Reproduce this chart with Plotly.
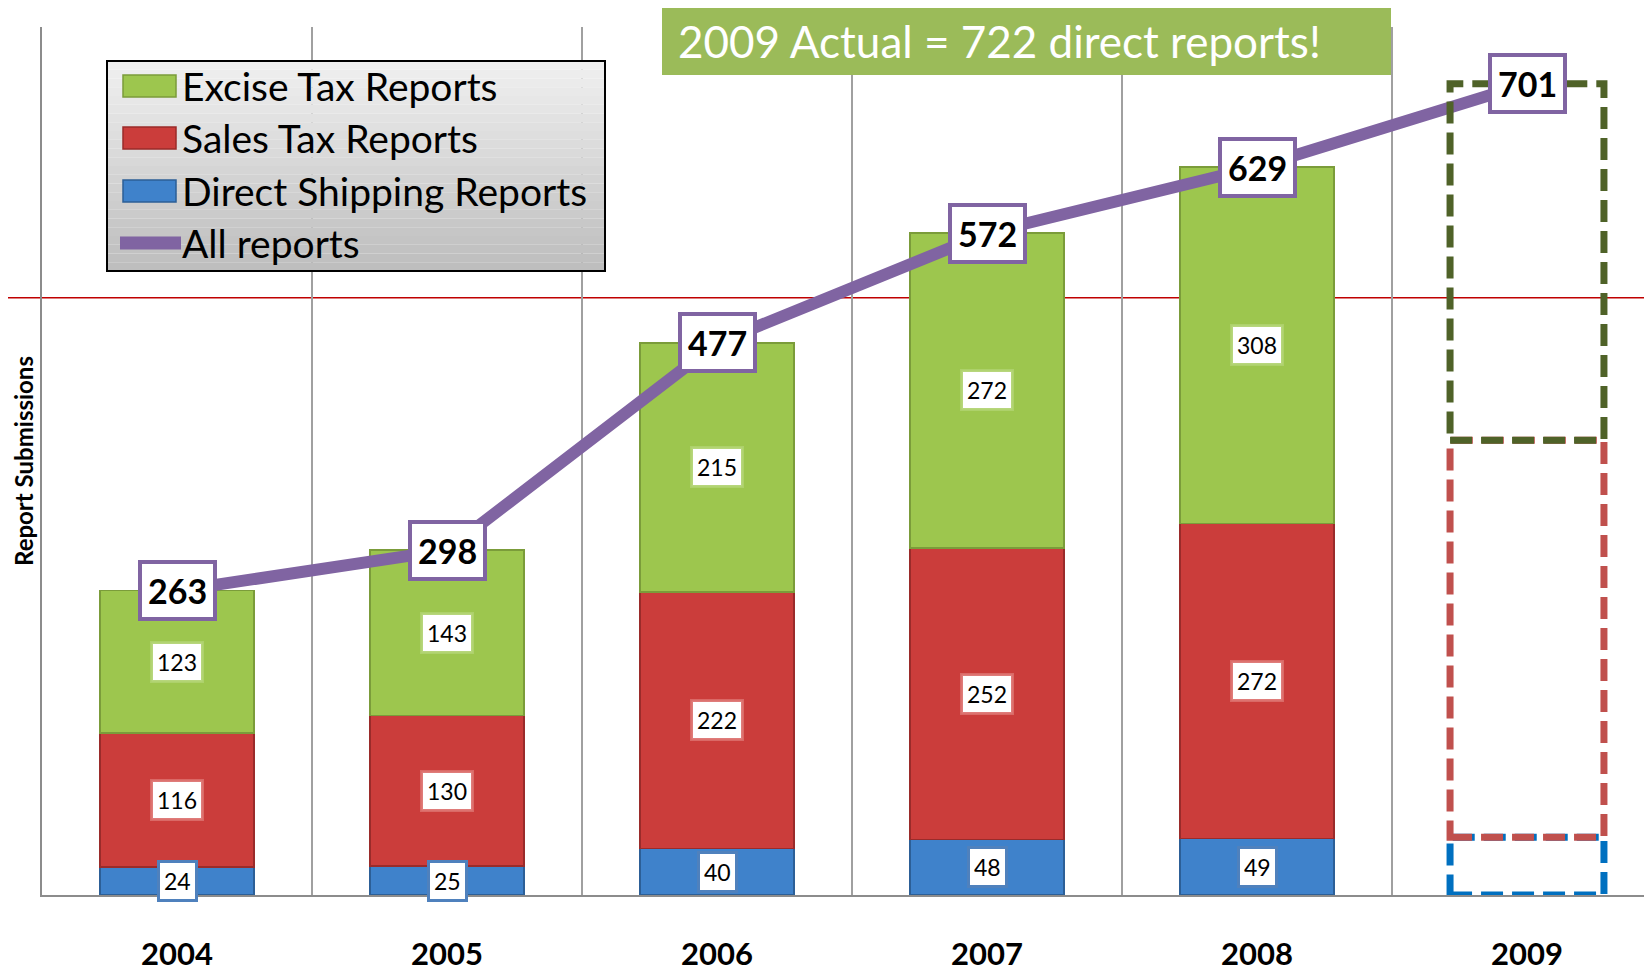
import plotly.graph_objects as go

# ---------------- data ----------------
years = ["2004", "2005", "2006", "2007", "2008", "2009"]
direct = [24, 25, 40, 48, 49, 50]
sales = [116, 130, 222, 252, 272, 343]
excise = [123, 143, 215, 272, 308, 308]
totals = [263, 298, 477, 572, 629, 701]
n_actual = 5  # years drawn as solid bars; the last one is a projection
series_names = ["Excise Tax Reports", "Sales Tax Reports", "Direct Shipping Reports", "All reports"]
title_text = "2009 Actual = 722 direct reports!"
y_title = "Report Submissions"
ref_line = 516
y_max = 750

# ---------------- styling ----------------
OFF = 8                 # page body margin
W, H = 1644, 963        # figure size (page area minus body margin)
L, T, B = 34, 19, 76
plot_w = W - L
plot_h = H - T - B
px_per_cat = 270
bar_w = 0.57
FONT = "Lato"

c_green, c_green_d = "#9dc64e", "#7b9c3a"
c_red, c_red_d = "#cb3d3b", "#9a2b2a"
c_blue, c_blue_d = "#3f82cb", "#2c5f97"
c_purple = "#8064A2"


def pxx(xpage):
    return (xpage - OFF - L) / plot_w


def pyy(ypage):
    return (OFF + T + plot_h - ypage) / plot_h


xs = list(range(len(years)))

fig = go.Figure()

for vals, col, dcol, nm in [
    (direct, c_blue, c_blue_d, series_names[2]),
    (sales, c_red, c_red_d, series_names[1]),
    (excise, c_green, c_green_d, series_names[0]),
]:
    fig.add_trace(go.Bar(
        x=xs[:n_actual], y=vals[:n_actual], width=bar_w, name=nm,
        marker=dict(color=col, line=dict(color=dcol, width=1.5)),
        showlegend=False,
    ))

fig.add_trace(go.Scatter(
    x=xs, y=totals, mode="lines", name=series_names[3],
    line=dict(color=c_purple, width=12), showlegend=False,
))

shapes = []
annotations = []

# reference red line
shapes.append(dict(type="line", xref="paper", yref="y", x0=pxx(0), x1=1, y0=ref_line, y1=ref_line,
                   line=dict(color="#c00000", width=1.5), layer="below"))

# projected year as dashed boxes
i = n_actual
b0 = direct[i]
b1 = direct[i] + sales[i]
b2 = b1 + excise[i]
for (y0, y1, col) in [(0, b0, "#0070C0"), (b0, b1, "#C0504D"), (b1, b2, "#4F6228")]:
    shapes.append(dict(type="rect", xref="x", yref="y", x0=i - bar_w / 2, x1=i + bar_w / 2,
                       y0=y0, y1=y1, line=dict(color=col, width=7, dash="22px,9px"),
                       fillcolor="rgba(0,0,0,0)", layer="above"))

# segment labels
for j in range(n_actual):
    base = 0
    for vals, bcol in [(direct, "#4F81BD"), (sales, "rgba(220,110,108,0.9)"), (excise, "rgba(175,210,110,0.9)")]:
        v = vals[j]
        annotations.append(dict(
            x=j, y=base + v / 2, xref="x", yref="y", text=str(v), showarrow=False,
            font=dict(family=FONT, size=23, color="black"),
            bgcolor="white", bordercolor=bcol, borderwidth=3, borderpad=4,
            xanchor="center", yanchor="middle",
        ))
        base += v

# total labels
for j, v in enumerate(totals):
    annotations.append(dict(
        x=j, y=v, xref="x", yref="y", text=str(v), showarrow=False,
        font=dict(family=FONT, size=34, color="black", weight="bold"),
        bgcolor="white", bordercolor=c_purple, borderwidth=4, borderpad=6,
        xanchor="center", yanchor="middle",
    ))

# title box
shapes.append(dict(type="rect", xref="paper", yref="paper", x0=pxx(662), x1=pxx(1391),
                   y0=pyy(75), y1=pyy(5), fillcolor="#9BBB59", line=dict(width=0), layer="above"))
annotations.append(dict(x=pxx(676), y=pyy(41), xref="paper", yref="paper", text=title_text,
                        showarrow=False, xanchor="left", yanchor="middle",
                        font=dict(family=FONT, size=44, color="white")))

# y axis title
annotations.append(dict(x=pxx(23), y=pyy(461), xref="paper", yref="paper", text=y_title,
                        showarrow=False, textangle=-90, xanchor="center", yanchor="middle",
                        font=dict(family=FONT, size=24, color="black", weight="bold")))

# legend (manual)
lx0, lx1, ly0, ly1 = 107, 605, 61, 271
nstrip = 24
for k in range(nstrip):
    t = k / (nstrip - 1)
    g = int(240 - t * (240 - 190))
    shapes.append(dict(type="rect", xref="paper", yref="paper",
                       x0=pxx(lx0), x1=pxx(lx1),
                       y0=pyy(ly0 + (ly1 - ly0) * (k + 1) / nstrip),
                       y1=pyy(ly0 + (ly1 - ly0) * k / nstrip),
                       fillcolor=f"rgb({g},{g},{g})", line=dict(width=0), layer="above"))
shapes.append(dict(type="rect", xref="paper", yref="paper", x0=pxx(lx0), x1=pxx(lx1),
                   y0=pyy(ly1), y1=pyy(ly0), fillcolor="rgba(0,0,0,0)",
                   line=dict(color="black", width=2), layer="above"))

leg_rows = [86, 138, 191, 243]
leg_cols = [(c_green, c_green_d), (c_red, c_red_d), (c_blue, c_blue_d)]
for k in range(3):
    yc = leg_rows[k]
    shapes.append(dict(type="rect", xref="paper", yref="paper", x0=pxx(123), x1=pxx(176),
                       y0=pyy(yc + 11), y1=pyy(yc - 11), fillcolor=leg_cols[k][0],
                       line=dict(color=leg_cols[k][1], width=1.5), layer="above"))
shapes.append(dict(type="line", xref="paper", yref="paper", x0=pxx(120), x1=pxx(181),
                   y0=pyy(leg_rows[3]), y1=pyy(leg_rows[3]),
                   line=dict(color=c_purple, width=13), layer="above"))
for k in range(4):
    annotations.append(dict(x=pxx(180), y=pyy(leg_rows[k]), xref="paper", yref="paper",
                            text=series_names[k], showarrow=False, xanchor="left", yanchor="middle",
                            font=dict(family=FONT, size=39, color="black")))

fig.update_layout(
    width=W, height=H,
    margin=dict(l=L, r=0, t=T, b=B, pad=0, autoexpand=False),
    barmode="stack",
    plot_bgcolor="white", paper_bgcolor="white",
    shapes=shapes, annotations=annotations,
    showlegend=False,
    xaxis=dict(
        range=[-0.5, -0.5 + plot_w / px_per_cat],
        tickvals=xs, ticktext=years, showgrid=False, zeroline=False,
        showline=True, linecolor="#8c8c8c", linewidth=2, ticks="",
        ticklabelstandoff=31, automargin=False,
        tickfont=dict(family=FONT, size=31, color="black", weight="bold"),
        minor=dict(tickvals=[k - 0.5 for k in range(len(years) + 1)], showgrid=True,
                   gridcolor="#a0a0a0", gridwidth=1.5, ticks=""),
        fixedrange=True,
    ),
    yaxis=dict(
        range=[0, y_max], showgrid=False, showticklabels=False, zeroline=False,
        showline=True, linecolor="#8c8c8c", linewidth=2, ticks="", fixedrange=True,
        automargin=False,
    ),
)

fig.write_html("out.html")
